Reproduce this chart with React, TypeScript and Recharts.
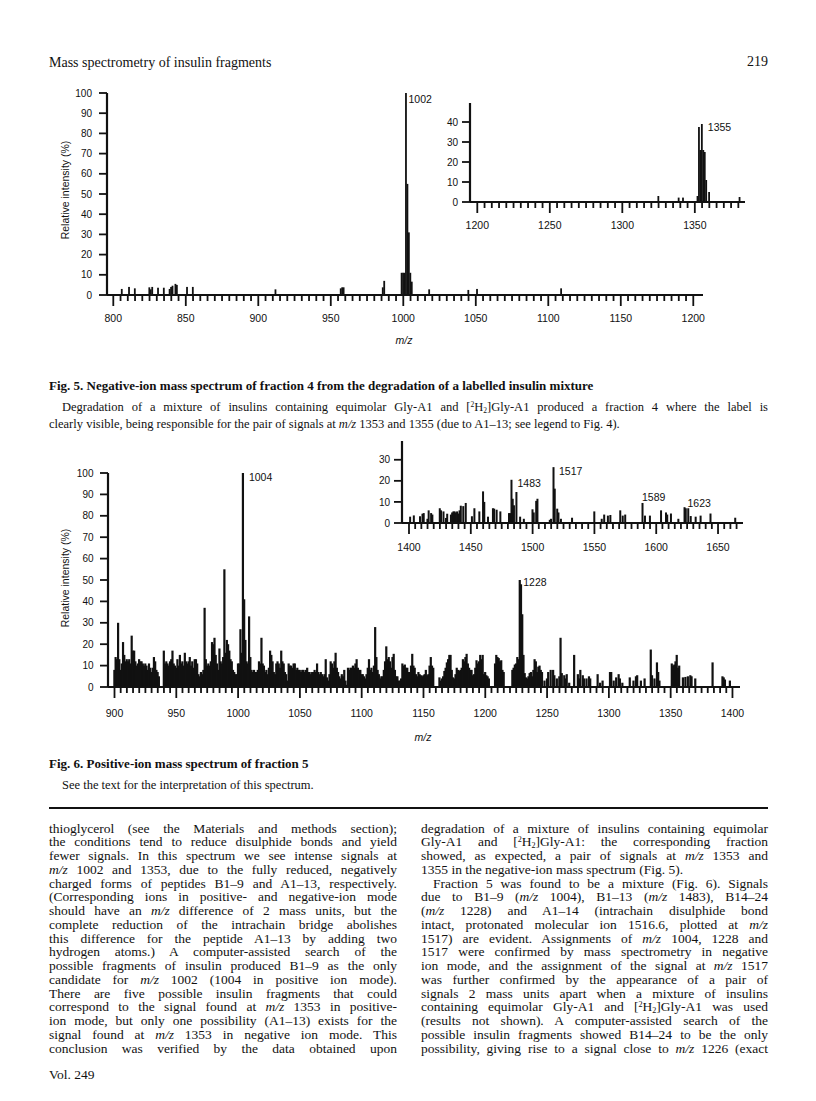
import React from "react";
import { BarChart, Bar, XAxis, YAxis, LabelList } from "recharts";

// ---- Fig. 5: negative-ion spectrum, fraction 4 (m/z, relative intensity %) ----
const fig5Mz = [
  806, 811, 815, 825, 826, 827, 831, 835, 839, 840,
  841, 843, 844, 851, 855, 912, 957, 958, 959, 986,
  987, 999, 1000, 1001, 1002, 1003, 1004, 1005, 1006, 1018,
  1045, 1051, 1109,
];
const fig5Int = [
  3, 4, 3.3, 3.8, 2.8, 4, 3.6, 3.6, 3, 4,
  4.6, 5.5, 5, 4, 4, 2.8, 3.3, 3.8, 3.8, 3.8,
  7, 11, 11, 11, 100, 55, 31, 11, 6.6, 2.8,
  2.5, 3, 3.3,
];
const fig5InsetMz = [1325, 1339, 1342, 1352, 1353, 1354, 1355, 1356, 1357, 1358, 1360, 1381];
const fig5InsetInt = [3, 2.2, 2.2, 3, 37.5, 26, 39, 26, 25, 11, 5, 2.5];
const fig5Peaks = [1002];
const fig5InsetPeaks = [1355];
const fig5XLabels = [800, 850, 900, 950, 1000, 1050, 1100, 1150, 1200];
const fig5InsetXLabels = [1200, 1250, 1300, 1350];

// ---- Fig. 6: positive-ion spectrum, fraction 5; one value per unit mass from m/z 900 ----
const fig6FirstMz = 900;
const fig6Int = [
  8, 14, 13, 30, 13, 8, 11, 21, 15, 12, // 900
  13, 12, 13, 11, 24, 17, 17, 12, 10, 11, // 910
  13, 12, 12, 11, 10, 11, 10, 8, 11, 9, // 920
  7, 9, 14, 12, 8, 7, 5, 0, 0, 0, // 930
  17, 11, 12, 11, 10, 12, 13, 17, 11, 10, // 940
  9, 13, 10, 15, 11, 12, 10, 16, 12, 11, // 950
  12, 14, 10, 12, 9, 13, 13, 11, 6, 5, // 960
  7, 6, 8, 37, 13, 10, 11, 10, 12, 21, // 970
  20, 23, 15, 11, 8, 18, 12, 11, 14, 55, // 980
  16, 22, 20, 17, 13, 12, 8, 7, 6, 6, // 990
  11, 11, 27, 16, 100, 41, 22, 12, 11, 33, // 1000
  14, 8, 7, 8, 7, 7, 8, 12, 11, 23, // 1010
  11, 10, 7, 8, 6, 9, 17, 15, 12, 7, // 1020
  6, 11, 12, 11, 9, 17, 12, 11, 7, 6, // 1030
  3, 11, 10, 10, 9, 11, 11, 8, 9, 8, // 1040
  8, 7, 8, 8, 7, 8, 9, 7, 7, 6, // 1050
  7, 7, 8, 7, 11, 7, 6, 7, 6, 5, // 1060
  6, 13, 4.5, 3, 6, 12, 11, 9, 12, 16, // 1070
  9, 7, 5, 4, 6, 5, 8, 3, 1, 9, // 1080
  8, 9, 9, 10, 9, 11, 13, 9, 8, 8, // 1090
  6, 6, 5, 4, 6, 9, 13, 8, 9, 7, // 1100
  10, 28, 14, 8, 6, 4, 5, 5, 8, 12, // 1110
  19, 13, 14, 12, 9, 14, 15.5, 8, 5, 5, // 1120
  3, 3, 4, 11, 10, 10.5, 9, 9, 7, 7, // 1130
  10, 15.5, 10, 9, 6, 5, 7, 6, 5.5, 5, // 1140
  5.5, 6, 8, 5.5, 6, 10, 14, 10, 9, 0, // 1150
  0, 0, 0, 4.5, 3, 4, 5, 7.5, 9, 11.5, // 1160
  13, 15, 15, 8, 4.5, 4, 6, 9, 8, 7.5, // 1170
  8, 9, 13, 12, 14, 15.5, 11, 9, 8, 8, // 1180
  5.5, 6, 9, 12.5, 11, 12, 15, 13, 15, 6, // 1190
  7, 5.5, 5, 4, 0, 0, 0, 0, 11, 15, // 1200
  14, 13.5, 12, 12.5, 8, 7, 0, 0, 0, 0, // 1210
  0, 0, 8, 9, 10.5, 11, 14, 13, 50, 48, // 1220
  34, 15, 6.5, 4.5, 4, 5, 6.5, 7, 5, 8, // 1230
  13, 12, 7, 9.5, 10, 8, 7, 0, 3, 0, // 1240
  4, 7, 0, 8, 0, 8, 5.5, 0, 4, 0, // 1250
  5, 23, 6.5, 0, 5.5, 4, 6, 0, 2, 0, // 1260
  0, 0, 15, 0, 0, 6, 4, 8, 0, 5.5, // 1270
  4, 0, 4, 0, 5, 4, 0, 0, 0, 0, // 1280
  0, 6, 0, 2, 0, 3, 0, 0, 0, 0, // 1290
  0, 7, 7, 0, 3, 0, 4.5, 0, 6, 4, // 1300
  0, 2, 0, 0, 0, 0, 0, 4.5, 0, 0, // 1310
  3, 0, 5, 5.5, 0, 0, 3, 0, 0, 4, // 1320
  0, 0, 0, 0, 17.5, 5.5, 0, 4, 0, 11.5, // 1330
  7, 3, 0, 0, 0, 0, 0, 0, 0, 0, // 1340
  0, 11, 10, 10.5, 12, 15, 9, 10, 0, 0, // 1350
  4.5, 0, 4.7, 0, 5, 0, 5.5, 5, 0, 0, // 1360
  4, 0, 0, 0, 0, 0, 0, 0, 0, 0, // 1370
  0, 0, 0, 0, 11.5, 0, 0, 0, 0, 0, // 1380
  0, 0, 5, 4.5, 3.5, 0, 0, 0, 3, 0, // 1390
];
const fig6InsetMz = [
  1401, 1404, 1409, 1411, 1412, 1415, 1416, 1418, 1419, 1425,
  1426, 1428, 1430, 1431, 1434, 1435, 1436, 1437, 1438, 1439,
  1440, 1441, 1442, 1444, 1446, 1451, 1453, 1457, 1460, 1461,
  1464, 1468, 1469, 1471, 1474, 1481, 1482, 1483, 1484, 1485,
  1487, 1490, 1493, 1500, 1501, 1503, 1504, 1514, 1515, 1517,
  1518, 1520, 1521, 1523, 1532, 1550, 1556, 1558, 1561, 1563,
  1571, 1573, 1575, 1589, 1591, 1595, 1604, 1608, 1609, 1612,
  1618, 1623, 1624, 1626, 1628, 1632, 1636, 1644, 1664,
];
const fig6InsetInt = [
  3, 3.6, 3.2, 4.4, 4.7, 2, 6, 4.7, 4, 7,
  6, 5.5, 2.4, 4.4, 4, 5, 5.5, 5.5, 5, 5.5,
  4.5, 6, 8.2, 8, 9.5, 3.2, 7, 5.5, 15, 10,
  3, 7, 6.8, 6.3, 5.5, 4.7, 4.7, 20.5, 11.5, 8.4,
  14.7, 3, 2, 6.5, 5, 10.5, 11.5, 1.5, 2, 26.5,
  16.3, 6.8, 5, 2, 2.5, 5.5, 2, 4, 3.5, 3.8,
  6, 3.5, 4, 9.5, 3.5, 3.5, 6, 5, 4, 4.5,
  2, 7.5, 7, 7, 3.3, 3, 3.5, 4.5, 2.5,
];
const fig6Peaks = [1004, 1228];
const fig6InsetPeaks = [1483, 1517, 1589, 1623];
const fig6XLabels = [900, 950, 1000, 1050, 1100, 1150, 1200, 1250, 1300, 1350, 1400];
const fig6InsetXLabels = [1400, 1450, 1500, 1550, 1600, 1650];

const mainYTicks = [0, 10, 20, 30, 40, 50, 60, 70, 80, 90, 100];
const fig5InsetYTicks = [0, 10, 20, 30, 40];
const fig6InsetYTicks = [0, 10, 20, 30];

// ---- page text ----
const leftColumn = [
  "thioglycerol (see the Materials and methods section);",
  "the conditions tend to reduce disulphide bonds and yield",
  "fewer signals. In this spectrum we see intense signals at",
  "m/z 1002 and 1353, due to the fully reduced, negatively",
  "charged forms of peptides B1–9 and A1–13, respectively.",
  "(Corresponding ions in positive- and negative-ion mode",
  "should have an m/z difference of 2 mass units, but the",
  "complete reduction of the intrachain bridge abolishes",
  "this difference for the peptide A1–13 by adding two",
  "hydrogen atoms.) A computer-assisted search of the",
  "possible fragments of insulin produced B1–9 as the only",
  "candidate for m/z 1002 (1004 in positive ion mode).",
  "There are five possible insulin fragments that could",
  "correspond to the signal found at m/z 1353 in positive-",
  "ion mode, but only one possibility (A1–13) exists for the",
  "signal found at m/z 1353 in negative ion mode. This",
  "conclusion was verified by the data obtained upon",
];
const rightColumn = [
  "degradation of a mixture of insulins containing equimolar",
  "Gly-A1 and [2H2]Gly-A1: the corresponding fraction",
  "showed, as expected, a pair of signals at m/z 1353 and",
  "1355 in the negative-ion mass spectrum (Fig. 5).",
  "Fraction 5 was found to be a mixture (Fig. 6). Signals",
  "due to B1–9 (m/z 1004), B1–13 (m/z 1483), B14–24",
  "(m/z 1228) and A1–14 (intrachain disulphide bond",
  "intact, protonated molecular ion 1516.6, plotted at m/z",
  "1517) are evident. Assignments of m/z 1004, 1228 and",
  "1517 were confirmed by mass spectrometry in negative",
  "ion mode, and the assignment of the signal at m/z 1517",
  "was further confirmed by the appearance of a pair of",
  "signals 2 mass units apart when a mixture of insulins",
  "containing equimolar Gly-A1 and [2H2]Gly-A1 was used",
  "(results not shown). A computer-assisted search of the",
  "possible insulin fragments showed B14–24 to be the only",
  "possibility, giving rise to a signal close to m/z 1226 (exact",
];

const INK = "#111";
const SERIF = '"Liberation Serif", "Times New Roman", serif';
const SANS = '"Liberation Sans", Arial, Helvetica, sans-serif';

// label offsets (from bar centre / bar top), styling only
const peakLabelOffset: Record<string, [number, number]> = {
  "1002": [2.5, 10],
  "1355": [6, 7],
  "1004": [6, 8],
  "1228": [3.5, 6],
  "1483": [6, 7],
  "1517": [5.5, 8],
  "1589": [-0.5, -2],
  "1623": [3, 0],
};

type Pt = { mz: number; v: number; lbl?: string };

const toData = (mz: number[], v: number[], peaks: number[]): Pt[] =>
  mz.map((m, i) => ({ mz: m, v: v[i], lbl: peaks.includes(m) ? String(m) : undefined }));

const range5 = (a: number, b: number) => {
  const out: number[] = [];
  for (let t = a; t <= b; t += 5) out.push(t);
  return out;
};

const PAD_L = 60;
const PAD_T = 20;
const PAD_R = 20;
const PAD_B = 45;

type SpectrumProps = {
  data: Pt[];
  left: number;
  top: number;
  width: number;
  height: number;
  xDomain: [number, number];
  xTicks: number[];
  xLabels: number[];
  yDomain: [number, number];
  yTicks: number[];
  labelGap: number;
  yGap: number;
  barSize: number;
};

function Spectrum(p: SpectrumProps) {
  const renderXTick = (t: any) => {
    const major = p.xLabels.includes(t.payload.value);
    return (
      <g>
        <line x1={t.x} x2={t.x} y1={t.y} y2={t.y + (major ? 11 : 6)} stroke={INK} strokeWidth={1.8} />
        {major && (
          <text x={t.x} y={t.y + p.labelGap} textAnchor="middle" fontSize={10.5} fontFamily={SANS} fill={INK}>
            {t.payload.value}
          </text>
        )}
      </g>
    );
  };
  const renderYTick = (t: any) => (
    <g>
      <line x1={t.x} x2={t.x - 8} y1={t.y} y2={t.y} stroke={INK} strokeWidth={1.8} />
      <text x={t.x - p.yGap} y={t.y} dy="0.36em" textAnchor="end" fontSize={10} fontFamily={SANS} fill={INK}>
        {t.payload.value}
      </text>
    </g>
  );
  // spectral line: fixed stroke width centred on the m/z position
  const renderLine = (b: any) => {
    const h = Number(b.height);
    if (!h || h <= 0) return <g />;
    const cx = Number(b.x) + Number(b.width) / 2;
    return <rect x={cx - p.barSize / 2} y={Number(b.y)} width={p.barSize} height={h} fill={INK} />;
  };
  const renderPeak = (l: any) => {
    if (!l.value) return null;
    const [dx, dy] = peakLabelOffset[l.value] ?? [3, 8];
    return (
      <text
        x={Number(l.x) + Number(l.width) / 2 + dx}
        y={Number(l.y) + dy}
        fontSize={10.5}
        fontFamily={SANS}
        fill={INK}
      >
        {l.value}
      </text>
    );
  };
  return (
    <div style={{ position: "absolute", left: p.left - PAD_L, top: p.top - PAD_T }}>
      <BarChart
        width={p.width + PAD_L + PAD_R}
        height={p.height + PAD_T + PAD_B}
        data={p.data}
        margin={{ top: PAD_T, right: PAD_R, left: PAD_L - 40, bottom: PAD_B - 30 }}
      >
        <XAxis
          dataKey="mz"
          type="number"
          domain={p.xDomain}
          allowDataOverflow
          ticks={p.xTicks}
          interval={0}
          tickSize={0}
          tickMargin={0}
          tickLine={false}
          axisLine={{ stroke: INK, strokeWidth: 2.2 }}
          tick={renderXTick}
          height={30}
        />
        <YAxis
          type="number"
          domain={p.yDomain}
          allowDataOverflow
          ticks={p.yTicks}
          interval={0}
          tickSize={0}
          tickMargin={0}
          tickLine={false}
          axisLine={{ stroke: INK, strokeWidth: 2.2 }}
          tick={renderYTick}
          width={40}
        />
        <Bar dataKey="v" fill={INK} barSize={1} shape={renderLine} isAnimationActive={false}>
          <LabelList dataKey="lbl" content={renderPeak} />
        </Bar>
      </BarChart>
    </div>
  );
}

function rich(s: string) {
  const parts = s.split(/(m\/z|\[2H2\])/);
  return parts.map((part, i) => {
    if (part === "m/z") return <i key={i}>m/z</i>;
    if (part === "[2H2]")
      return (
        <span key={i}>
          [<sup style={{ fontSize: "0.6em", lineHeight: 0, verticalAlign: "0.5em" }}>2</sup>H
          <sub style={{ fontSize: "0.6em", lineHeight: 0, verticalAlign: "-0.2em" }}>2</sub>]
        </span>
      );
    return <React.Fragment key={i}>{part}</React.Fragment>;
  });
}

type LineProps = {
  x: number;
  y: number;
  w: number;
  text: string;
  justify?: boolean;
  size?: number;
  bold?: boolean;
};

function TextLine({ x, y, w, text, justify, size = 13.5, bold }: LineProps) {
  const lh = 13;
  return (
    <div
      style={{
        position: "absolute",
        left: x,
        top: y - lh / 2,
        width: w,
        height: lh,
        lineHeight: `${lh}px`,
        fontSize: size,
        fontWeight: bold ? "bold" : "normal",
        textAlign: justify ? "justify" : "left",
        textAlignLast: justify ? "justify" : "left",
      }}
    >
      {rich(text)}
    </div>
  );
}

const axisTitle: React.CSSProperties = {
  position: "absolute",
  fontFamily: SANS,
  fontSize: 10.5,
  whiteSpace: "nowrap",
  color: INK,
};

export default function App() {
  const fig6Mz = fig6Int.map((_, i) => fig6FirstMz + i);
  const lineGap = 13.75;
  return (
    <div
      style={{
        position: "absolute",
        left: 0,
        top: 0,
        width: 816,
        height: 1101,
        background: "#fff",
        fontFamily: SERIF,
        color: INK,
        overflow: "hidden",
      }}
    >
      <TextLine x={49} y={62} w={320} text="Mass spectrometry of insulin fragments" size={14} />
      <div style={{ position: "absolute", left: 700, top: 54, width: 68, textAlign: "right", fontSize: 14, lineHeight: "16px" }}>
        219
      </div>

      {/* Fig. 5 */}
      <Spectrum
        data={toData(fig5Mz, fig5Int, fig5Peaks)}
        left={107}
        top={93}
        width={596}
        height={202}
        xDomain={[795.66, 1206.7]}
        xTicks={range5(800, 1200)}
        xLabels={fig5XLabels}
        yDomain={[0, 100]}
        yTicks={mainYTicks}
        labelGap={27}
        yGap={15}
        barSize={1.8}
      />
      <Spectrum
        data={toData(fig5InsetMz, fig5InsetInt, fig5InsetPeaks)}
        left={470}
        top={103}
        width={275}
        height={99}
        xDomain={[1194.97, 1384.6]}
        xTicks={range5(1200, 1380)}
        xLabels={fig5InsetXLabels}
        yDomain={[0, 49.5]}
        yTicks={fig5InsetYTicks}
        labelGap={27}
        yGap={12}
        barSize={1.8}
      />
      <div style={{ ...axisTitle, left: 65, top: 190, transform: "translate(-50%, -50%) rotate(-90deg)" }}>
        Relative intensity (%)
      </div>
      <div style={{ ...axisTitle, left: 404, top: 340, transform: "translate(-50%, -50%)", fontStyle: "italic" }}>m/z</div>

      <TextLine
        x={49}
        y={385}
        w={719}
        bold
        size={13}
        text="Fig. 5. Negative-ion mass spectrum of fraction 4 from the degradation of a labelled insulin mixture"
      />
      <TextLine
        x={62}
        y={407}
        w={706}
        justify
        size={12.5}
        text="Degradation of a mixture of insulins containing equimolar Gly-A1 and [2H2]Gly-A1 produced a fraction 4 where the label is"
      />
      <TextLine
        x={49}
        y={424}
        w={719}
        size={12.5}
        text="clearly visible, being responsible for the pair of signals at m/z 1353 and 1355 (due to A1–13; see legend to Fig. 4)."
      />

      {/* Fig. 6 */}
      <Spectrum
        data={toData(fig6Mz, fig6Int, fig6Peaks)}
        left={108}
        top={472.7}
        width={632}
        height={214}
        xDomain={[894.74, 1406.1]}
        xTicks={range5(900, 1400)}
        xLabels={fig6XLabels}
        yDomain={[0, 100]}
        yTicks={mainYTicks}
        labelGap={30}
        yGap={14.5}
        barSize={2.2}
      />
      <Spectrum
        data={toData(fig6InsetMz, fig6InsetInt, fig6InsetPeaks)}
        left={402.3}
        top={441}
        width={341}
        height={82}
        xDomain={[1394.34, 1670.2]}
        xTicks={range5(1400, 1665)}
        xLabels={fig6InsetXLabels}
        yDomain={[0, 38.9]}
        yTicks={fig6InsetYTicks}
        labelGap={27.5}
        yGap={12}
        barSize={2}
      />
      <div style={{ ...axisTitle, left: 65, top: 578, transform: "translate(-50%, -50%) rotate(-90deg)" }}>
        Relative intensity (%)
      </div>
      <div style={{ ...axisTitle, left: 423, top: 737, transform: "translate(-50%, -50%)", fontStyle: "italic" }}>m/z</div>

      <TextLine x={49} y={763} w={719} bold size={13} text="Fig. 6. Positive-ion mass spectrum of fraction 5" />
      <TextLine x={62} y={785} w={706} size={12.5} text="See the text for the interpretation of this spectrum." />
      <div style={{ position: "absolute", left: 49, top: 807, width: 719, height: 1.5, background: INK }} />

      {/* body text */}
      {leftColumn.map((t, i) => (
        <TextLine key={`l${i}`} x={49} y={828 + i * lineGap} w={348} text={t} justify />
      ))}
      {rightColumn.map((t, i) => (
        <TextLine
          key={`r${i}`}
          x={i === 4 ? 433 : 421}
          y={828 + i * lineGap}
          w={i === 4 ? 335 : 347}
          text={t}
          justify={i !== 3}
        />
      ))}
      <TextLine x={49} y={1074} w={200} text="Vol. 249" />
    </div>
  );
}
